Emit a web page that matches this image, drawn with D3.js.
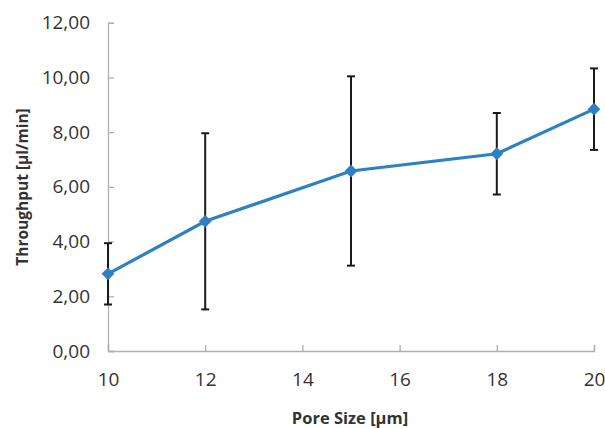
<!DOCTYPE html>
<html><head><meta charset="utf-8">
<script src="https://cdn.jsdelivr.net/npm/d3@7"></script>
<style>body{margin:0;background:#fff;} svg{display:block;}</style>
</head><body>
<svg id="c" width="605" height="428"></svg>
<script>
const poreSizes = [10, 12, 15, 18, 20];
const throughput = [2.82, 4.74, 6.58, 7.21, 8.84];
const errors = [1.12, 3.22, 3.46, 1.49, 1.49];
const xTicks = [10, 12, 14, 16, 18, 20];
const yTicks = [0, 2, 4, 6, 8, 10, 12];
const xTitle = "Pore Size [µm]";
const yTitle = "Throughput [µl/min]";

const svg = d3.select("#c");
const x = d3.scaleLinear().domain([10, 20]).range([108, 594]);
const y = d3.scaleLinear().domain([0, 12]).range([351, 22.7]);
const font = "'Open Sans', sans-serif";
const axisColor = "#b0b0b0";
const textColor = "#333333";

// x axis
const gx = svg.append("g").attr("transform", `translate(0,${y(0)})`)
  .call(d3.axisBottom(x).tickValues(xTicks).tickSize(-6).tickPadding(22).tickFormat(d3.format("d")));
gx.attr("font-size", null).attr("font-family", null);
gx.select(".domain").attr("stroke", axisColor).attr("stroke-width", 1.3);
gx.selectAll(".tick line").attr("stroke", axisColor).attr("stroke-width", 1.3);
gx.selectAll("text").style("font-family", font).style("font-size", "19px").attr("fill", textColor);

// y axis
const fmt = v => d3.format(".2f")(v).replace(".", ",");
const gy = svg.append("g").attr("transform", `translate(${x(10)},0)`)
  .call(d3.axisLeft(y).tickValues(yTicks).tickSize(-6).tickPadding(18).tickFormat(fmt));
gy.attr("font-size", null).attr("font-family", null);
gy.select(".domain").attr("stroke", axisColor).attr("stroke-width", 1.3);
gy.selectAll(".tick line").attr("stroke", axisColor).attr("stroke-width", 1.3);
gy.selectAll("text").style("font-family", font).style("font-size", "19px").attr("fill", textColor);

// error bars
const data = poreSizes.map((p, i) => ({p, v: throughput[i], e: errors[i]}));
const eb = svg.append("g").attr("stroke", "#1a1a1a").attr("stroke-width", 2);
data.forEach(d => {
  eb.append("line").attr("x1", x(d.p)).attr("x2", x(d.p)).attr("y1", y(d.v - d.e)).attr("y2", y(d.v + d.e));
  [d.v - d.e, d.v + d.e].forEach(v => {
    eb.append("line").attr("x1", x(d.p) - 4).attr("x2", x(d.p) + 4).attr("y1", y(v)).attr("y2", y(v));
  });
});

// line
svg.append("path").datum(data)
  .attr("d", d3.line().x(d => x(d.p)).y(d => y(d.v)))
  .attr("fill", "none").attr("stroke", "#2f80c3").attr("stroke-width", 3.2);

// markers
svg.append("g").selectAll("path").data(data).join("path")
  .attr("transform", d => `translate(${x(d.p)},${y(d.v)})`)
  .attr("d", d3.symbol().type(d3.symbolDiamond2).size(105))
  .attr("fill", "#2f80c3");

// titles
svg.append("text").attr("x", 350).attr("y", 424).attr("text-anchor", "middle")
  .style("font-family", font).attr("font-weight", "bold").style("font-size", "16.5px").attr("fill", textColor)
  .text(xTitle);
svg.append("text").attr("transform", "translate(28,187) rotate(-90)").attr("text-anchor", "middle")
  .style("font-family", font).attr("font-weight", "bold").style("font-size", "15.5px").attr("fill", textColor)
  .text(yTitle);
</script>
</body></html>
